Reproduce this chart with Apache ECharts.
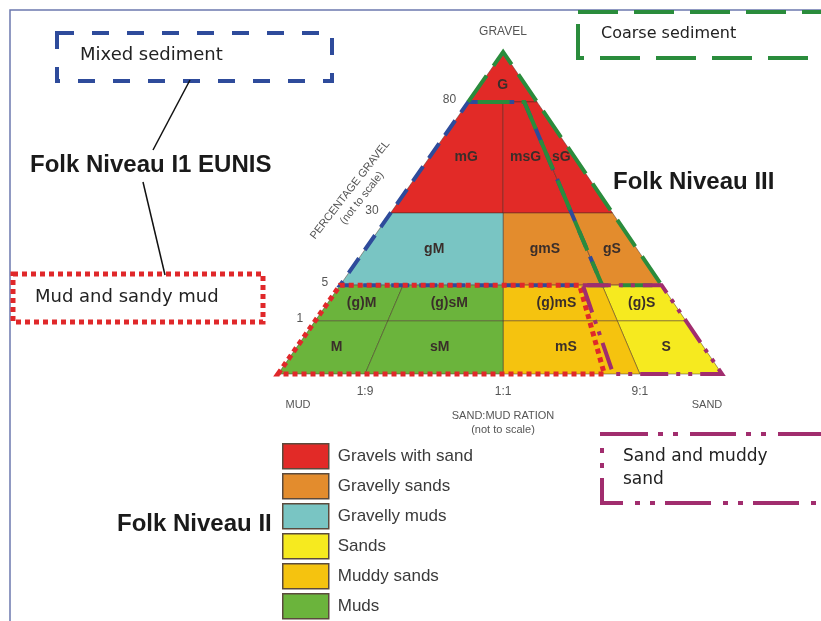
<!DOCTYPE html>
<html><head><meta charset="utf-8">
<script src="https://cdn.jsdelivr.net/npm/echarts@6/dist/echarts.min.js"></script>
<style>html,body{margin:0;padding:0;background:#fff}#c{width:821px;height:621px}</style>
</head><body><div id="c"></div>
<script>
// ---- data ----
const groupNames  = ['Gravels with sand','Gravelly sands','Gravelly muds','Sands','Muddy sands','Muds'];
const groupColors = ['#e22a27','#e38c2d','#79c5c3','#f6ea1f','#f5c30f','#6bb43c'];

// percentage gravel boundaries and their (not to scale) position on the diagram
const gravelTickLabels = ['0','1','5','30','80','100'];
const gravelTickPos    = [0, 16.5, 27.6, 50, 84.5, 100];
// sand:mud ratio boundaries and their (not to scale) position along the base
const ratioTickLabels = ['0','1:9','1:1','9:1','∞'];
const ratioTickPos    = [0, 19.6, 50.7, 81.5, 100];

// Folk classes (indices into the boundary arrays above)
const classNames      = ['G','mG','msG','sG','gM','gmS','gS','(g)M','(g)sM','(g)mS','(g)S','M','sM','mS','S'];
const classRatioFrom  = [0,0,2,3,0,2,3,0,1,2,3,0,1,2,3];
const classRatioTo    = [4,2,3,4,2,3,4,1,2,3,4,1,2,3,4];
const classGravelFrom = [4,3,3,3,2,2,2,1,1,1,1,0,0,0,0];
const classGravelTo   = [5,4,4,4,3,3,3,2,2,2,2,1,1,1,1];
const classGroup      = [0,0,0,0,2,1,1,5,5,4,3,5,5,4,3];

// EUNIS groupings drawn over the triangle: [ratio position, gravel position]
const eunisNames = ['Mixed sediment','Coarse sediment','Mud and sandy mud','Sand and muddy sand'];
const eunisMixed  = [[0,84.5],[81.5,84.5],[81.5,27.6],[0,27.6]];
const eunisCoarse = [[0,84.5],[50.7,100],[100,27.6],[81.5,27.6],[81.5,84.5]];
const eunisMud    = [[0,0],[0,27.6],[74.5,27.6],[73.5,0]];
const eunisSand   = [[75.5,27.6],[100,27.6],[100,0],[75.5,0]];

// ---- rendering ----
const APEX = ratioTickPos[2];
function tri(r, g) { return [APEX + (r - APEX) * (1 - g / 100), g]; }

function cellRender(params, api) {
  const i = api.value(0);
  const rf = ratioTickPos[classRatioFrom[i]], rt = ratioTickPos[classRatioTo[i]];
  const gf = gravelTickPos[classGravelFrom[i]], gt = gravelTickPos[classGravelTo[i]];
  let pts = [tri(rf, gf), tri(rt, gf), tri(rt, gt), tri(rf, gt)].map(p => api.coord(p));
  if (gt >= 100) pts = pts.slice(0, 3);
  let cx = 0, cy = 0; pts.forEach(p => { cx += p[0]; cy += p[1]; });
  cx /= pts.length; cy /= pts.length;
  return { type: 'group', children: [
    { type: 'polygon', shape: { points: pts },
      style: { fill: groupColors[classGroup[i]], stroke: 'rgba(70,45,35,0.6)', lineWidth: 0.8 } },
    { type: 'text', x: cx, y: cy,
      style: { text: classNames[i], font: 'bold 14px "Liberation Sans", Arial', fill: '#3a2e2a', align: 'center', verticalAlign: 'middle' } }
  ]};
}

const series = groupNames.map((name, k) => ({
  type: 'custom', name: name, coordinateSystem: 'cartesian2d', clip: false, z: 2,
  itemStyle: { color: groupColors[k] },
  renderItem: cellRender,
  data: classNames.map((n, i) => i).filter(i => classGroup[i] === k).map(i => [i, 0])
}));

const outlineShapes = [eunisMixed, eunisCoarse, eunisMud, eunisSand];
const outlineStyles = [
  { stroke: '#2e4b9b', lineWidth: 4, lineDash: [18, 10] },
  { stroke: '#2a8c3c', lineWidth: 4, lineDash: [32, 12] },
  { stroke: '#e0282a', lineWidth: 5, lineDash: [5, 4] },
  { stroke: '#a12d6e', lineWidth: 4, lineDash: [28, 8, 4, 8, 4, 8] }
];
series.push({
  type: 'custom', name: 'EUNIS', coordinateSystem: 'cartesian2d', clip: false, z: 5,
  renderItem: function (params, api) {
    const k = api.value(0);
    const pts = outlineShapes[k].map(p => api.coord(tri(p[0], p[1])));
    return { type: 'polygon', shape: { points: pts },
      style: Object.assign({ fill: null }, outlineStyles[k]) };
  },
  data: [[0,0],[1,0],[2,0],[3,0]]
});

// gravel percentage labels along the left edge
series.push({
  type: 'custom', name: 'gravelLabels', coordinateSystem: 'cartesian2d', clip: false, z: 6,
  renderItem: function (params, api) {
    const j = api.value(0);
    const p = api.coord(tri(0, gravelTickPos[j]));
    return { type: 'text', x: p[0] - 12, y: p[1] - 2,
      style: { text: gravelTickLabels[j], font: '12px "Liberation Sans", Arial', fill: '#555', align: 'right', verticalAlign: 'middle' } };
  },
  data: [[1,0],[2,0],[3,0],[4,0]]
});

const txt = (t, x, y, font, extra) => Object.assign({ type: 'text', x: x, y: y, silent: true,
  style: Object.assign({ text: t, font: font, fill: '#222', verticalAlign: 'middle' }, extra && extra.style || {}) },
  extra && extra.rot ? { rotation: extra.rot } : {});
const boxFont = '17px "DejaVu Sans"';
const titleFont = 'bold 24px "Liberation Sans", Arial';
const axFont = '11px "Liberation Sans", Arial';

const graphic = [
  { type: 'polyline', silent: true, shape: { points: [[10,621],[10,10],[821,10]] }, style: { stroke: '#6c78ae', lineWidth: 1.5, fill: null } },
  // annotation boxes
  { type: 'rect', silent: true, shape: { x: 57, y: 33, width: 275, height: 48 }, style: { fill: null, stroke: '#2e4b9b', lineWidth: 4, lineDash: [17, 18] } },
  { type: 'rect', silent: true, shape: { x: 578, y: 12, width: 260, height: 46 }, style: { fill: null, stroke: '#2a8c3c', lineWidth: 4, lineDash: [40, 16] } },
  { type: 'rect', silent: true, shape: { x: 13, y: 274, width: 250, height: 48 }, style: { fill: null, stroke: '#e0282a', lineWidth: 5, lineDash: [5, 4] } },
  { type: 'rect', silent: true, shape: { x: 602, y: 434, width: 240, height: 69 }, style: { fill: null, stroke: '#a12d6e', lineWidth: 4, lineDash: [46, 10, 5, 10, 5, 12] } },
  txt(eunisNames[0], 80, 55, '18px "DejaVu Sans"'),
  txt(eunisNames[1], 601, 34, '16px "DejaVu Sans"'),
  txt(eunisNames[2], 35, 297, '18px "DejaVu Sans"'),
  txt('Sand and muddy', 623, 457, boxFont),
  txt('sand', 623, 480, boxFont),
  // connector lines
  { type: 'line', silent: true, shape: { x1: 190, y1: 80, x2: 153, y2: 150 }, style: { stroke: '#111', lineWidth: 1.5 } },
  { type: 'line', silent: true, shape: { x1: 143, y1: 182, x2: 165, y2: 275 }, style: { stroke: '#111', lineWidth: 1.5 } },
  // titles
  txt('Folk Niveau I1 EUNIS', 30, 165, titleFont, { style: { fill: '#1a1a1a' } }),
  txt('Folk Niveau III', 613, 182, titleFont, { style: { fill: '#1a1a1a' } }),
  txt('Folk Niveau II', 117, 524, titleFont, { style: { fill: '#1a1a1a' } }),
  // axis titles
  txt('GRAVEL', 503, 32, '12px "Liberation Sans", Arial', { style: { fill: '#555', align: 'center' } }),
  txt('MUD', 298, 405, axFont, { style: { fill: '#555', align: 'center' } }),
  txt('SAND', 707, 405, axFont, { style: { fill: '#555', align: 'center' } }),
  txt('SAND:MUD RATION', 503, 416, axFont, { style: { fill: '#555', align: 'center' } }),
  txt('(not to scale)', 503, 430, axFont, { style: { fill: '#555', align: 'center' } }),
  txt('PERCENTAGE GRAVEL', 350, 190, axFont, { style: { fill: '#555', align: 'center' }, rot: 52 * Math.PI / 180 }),
  txt('(not to scale)', 362, 198, axFont, { style: { fill: '#555', align: 'center' }, rot: 52 * Math.PI / 180 })
];

const chart = echarts.init(document.getElementById('c'), null, { renderer: 'canvas' });
chart.setOption({
  animation: false,
  backgroundColor: '#fff',
  grid: { left: 278, top: 52, width: 444, height: 322 },
  xAxis: {
    type: 'value', min: 0, max: 100,
    axisLine: { show: false }, axisTick: { show: false }, splitLine: { show: false },
    axisLabel: {
      customValues: ratioTickPos.slice(1, 4), margin: 12,
      formatter: v => ratioTickLabels[ratioTickPos.indexOf(v)],
      color: '#555', fontSize: 12, fontFamily: '"Liberation Sans", Arial'
    }
  },
  yAxis: { type: 'value', min: 0, max: 100, show: false },
  legend: {
    data: groupNames, orient: 'vertical', left: 282, top: 443, height: 260, padding: 0, icon: 'rect',
    itemWidth: 46, itemHeight: 25, itemGap: 3.5, selectedMode: false,
    itemStyle: { borderColor: '#5b4a3c', borderWidth: 1.5 },
    textStyle: { fontSize: 17, color: '#3a3a3a', fontFamily: '"Liberation Sans", Arial', padding: [0, 0, 0, 4] }
  },
  graphic: graphic,
  series: series
});
</script></body></html>
